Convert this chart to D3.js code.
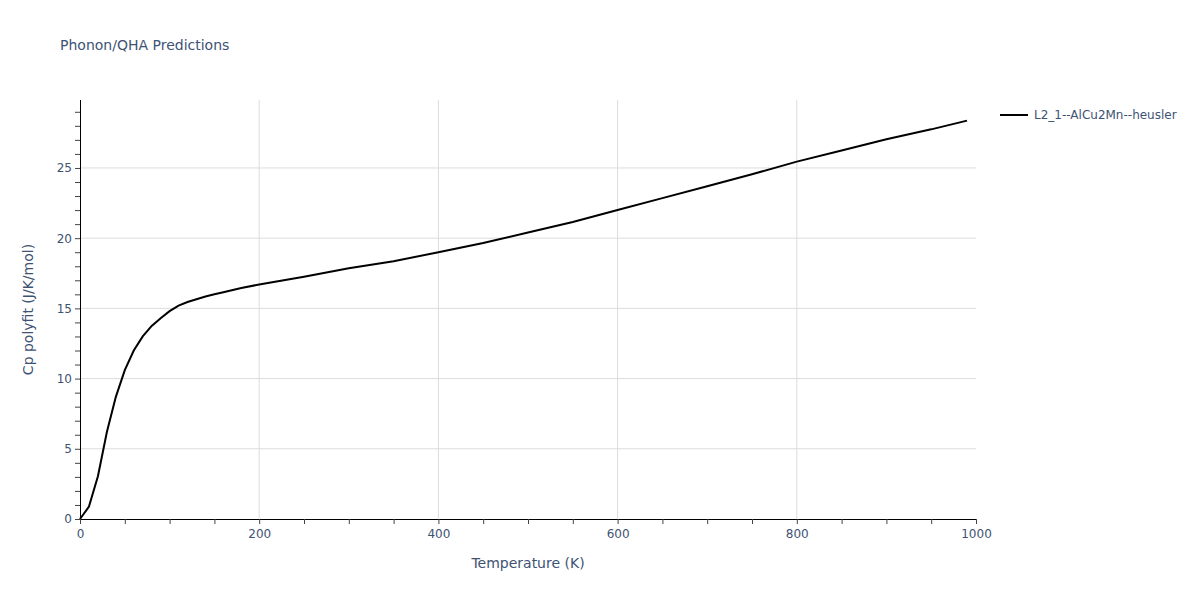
<!DOCTYPE html>
<html>
<head>
<meta charset="utf-8">
<script src="https://d3js.org/d3.v7.min.js"></script>
<style>
  body { margin: 0; background: #fff; }
  text { font-family: "DejaVu Sans", Verdana, sans-serif; fill: #3e5273; }
</style>
</head>
<body>
<div id="chart"></div>
<script>
// data
const temps = [0, 10, 20, 30, 40, 50, 60, 70, 80, 90, 100, 110, 120, 130, 140, 150, 160, 180, 200,
               250, 300, 350, 400, 450, 500, 550, 600, 650, 700, 750, 800, 850, 900, 950, 990];
const cp = [0, 0.88, 3.05, 6.2, 8.7, 10.6, 12.0, 13.0, 13.75, 14.3, 14.8, 15.2, 15.45, 15.65, 15.85, 16.0, 16.15, 16.45, 16.7,
            17.25, 17.85, 18.35, 19.0, 19.65, 20.4, 21.15, 22.0, 22.85, 23.7, 24.55, 25.45, 26.25, 27.05, 27.75, 28.37];
const seriesName = "L2_1--AlCu2Mn--heusler";
const xTicks = [0, 200, 400, 600, 800, 1000];
const yTicks = [0, 5, 10, 15, 20, 25];

// dimensions
const margin = {top: 100, right: 224, bottom: 81, left: 80};
const width = 1200 - margin.left - margin.right;
const height = 600 - margin.top - margin.bottom;
const textColor = "#3e5273";

var svg = d3.select("#chart")
    .append("svg")
    .attr("width", 1200)
    .attr("height", 600);

var g = svg.append("g")
    .attr("transform", "translate(" + margin.left + "," + margin.top + ")");

var x = d3.scaleLinear().domain([0, 1000]).range([0, width]);
var y = d3.scaleLinear().domain([0, 29.84]).range([height, 0]);

// grid
g.selectAll(".xgrid").data(xTicks.filter(d => d > 0 && d < 1000))
  .enter().append("line")
    .attr("x1", d => x(d)).attr("x2", d => x(d))
    .attr("y1", 0).attr("y2", height)
    .attr("stroke", "#dcdcdc").attr("stroke-width", 1);
g.selectAll(".ygrid").data(yTicks.filter(d => d > 0))
  .enter().append("line")
    .attr("x1", 0).attr("x2", width)
    .attr("y1", d => y(d)).attr("y2", d => y(d))
    .attr("stroke", "#dcdcdc").attr("stroke-width", 1);

// axes with minor ticks (every 50 K / every 1 unit)
var xAxis = g.append("g")
    .attr("transform", "translate(0," + height + ")")
    .call(d3.axisBottom(x).tickValues(d3.range(0, 1001, 50)).tickSize(5).tickFormat(d => xTicks.includes(d) ? d : ""));
var yAxis = g.append("g")
    .call(d3.axisLeft(y).tickValues(d3.range(0, 30, 1)).tickSize(5).tickFormat(d => yTicks.includes(d) ? d : ""));

[xAxis, yAxis].forEach(a => {
  a.select(".domain").attr("stroke", "#000").attr("stroke-width", 1);
  a.selectAll(".tick line").attr("stroke", "#444");
  a.selectAll(".tick text").style("font-size", "12px").attr("fill", textColor)
    .style("font-family", '"DejaVu Sans", Verdana, sans-serif');
});
xAxis.selectAll(".tick text").attr("dy", "0.9em");
yAxis.selectAll(".tick text").attr("x", -8);
yAxis.select(".domain").attr("d", "M0.5," + height + "V0");

// line
var line = d3.line()
    .x((d, i) => x(temps[i]))
    .y(d => y(d));

g.append("path")
    .datum(cp)
    .attr("fill", "none")
    .attr("stroke", "#000")
    .attr("stroke-width", 2)
    .attr("d", line);

// titles
svg.append("text")
    .attr("x", 60).attr("y", 50)
    .style("font-size", "14px")
    .text("Phonon/QHA Predictions");

svg.append("text")
    .attr("x", margin.left + width / 2).attr("y", 568)
    .attr("text-anchor", "middle")
    .style("font-size", "14px")
    .text("Temperature (K)");

svg.append("text")
    .attr("transform", "translate(33," + (margin.top + height / 2) + ") rotate(-90)")
    .attr("text-anchor", "middle")
    .style("font-size", "14px")
    .text("Cp polyfit (J/K/mol)");

// legend
var legend = svg.append("g").attr("transform", "translate(1000,115)");
legend.append("line")
    .attr("x1", 0).attr("x2", 28)
    .attr("stroke", "#000").attr("stroke-width", 2);
legend.append("text")
    .attr("x", 34).attr("y", 4)
    .style("font-size", "12px")
    .text(seriesName);
</script>
</body>
</html>
